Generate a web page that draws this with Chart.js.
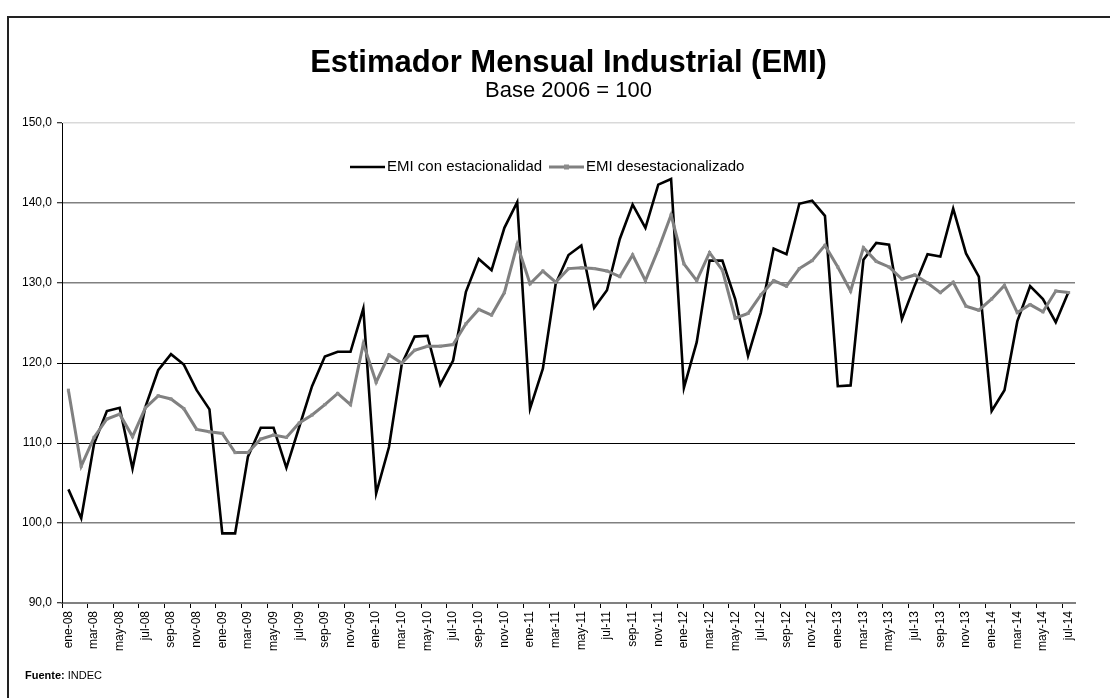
<!DOCTYPE html>
<html><head><meta charset="utf-8">
<script src="https://cdn.jsdelivr.net/npm/chart.js@4.4.1/dist/chart.umd.min.js"></script>
<style>html,body{margin:0;padding:0;background:#fff;} #wrap{position:relative;width:1110px;height:698px;overflow:hidden;}</style>
</head><body><div id="wrap"><canvas id="c" width="1110" height="698"></canvas></div>
<script>
const categories = [
 'ene-08','feb-08','mar-08','abr-08','may-08','jun-08','jul-08','ago-08','sep-08','oct-08','nov-08','dic-08',
 'ene-09','feb-09','mar-09','abr-09','may-09','jun-09','jul-09','ago-09','sep-09','oct-09','nov-09','dic-09',
 'ene-10','feb-10','mar-10','abr-10','may-10','jun-10','jul-10','ago-10','sep-10','oct-10','nov-10','dic-10',
 'ene-11','feb-11','mar-11','abr-11','may-11','jun-11','jul-11','ago-11','sep-11','oct-11','nov-11','dic-11',
 'ene-12','feb-12','mar-12','abr-12','may-12','jun-12','jul-12','ago-12','sep-12','oct-12','nov-12','dic-12',
 'ene-13','feb-13','mar-13','abr-13','may-13','jun-13','jul-13','ago-13','sep-13','oct-13','nov-13','dic-13',
 'ene-14','feb-14','mar-14','abr-14','may-14','jun-14','jul-14'
];
const emiConEstacionalidad = [
 104.2,100.6,109.9,114.0,114.4,106.8,114.5,119.1,121.1,119.8,116.6,114.2,
 98.7,98.7,108.3,111.9,111.9,106.9,112.0,117.1,120.8,121.4,121.4,126.8,
 103.7,109.5,119.9,123.3,123.4,117.3,120.3,128.9,133.0,131.6,136.9,140.1,
 114.3,119.3,129.9,133.5,134.7,126.9,129.1,135.5,139.8,136.9,142.3,143.0,
 116.9,122.6,132.8,132.8,128.0,120.9,126.3,134.3,133.6,139.9,140.3,138.4,
 117.1,117.2,132.9,135.0,134.8,125.5,129.7,133.6,133.3,139.3,133.7,130.8,
 114.0,116.6,125.2,129.6,128.0,125.1,128.9
];
const emiDesestacionalizado = [
 116.6,107.1,110.7,113.0,113.6,110.8,114.4,115.9,115.5,114.3,111.7,111.4,
 111.2,108.8,108.8,110.5,111.0,110.7,112.5,113.5,114.8,116.2,114.8,122.4,
 117.6,121.0,120.0,121.6,122.1,122.1,122.3,124.9,126.7,126.0,128.8,134.8,
 129.9,131.5,130.1,131.8,131.9,131.8,131.5,130.8,133.5,130.3,134.2,138.5,
 132.4,130.3,133.8,131.6,125.6,126.2,128.5,130.3,129.6,131.8,132.8,134.7,
 132.0,129.0,134.4,132.7,132.0,130.5,131.0,130.0,128.8,130.1,127.1,126.6,
 128.0,129.7,126.3,127.3,126.4,129.0,128.8
];
const seriesNames = ['EMI con estacionalidad','EMI desestacionalizado'];
const yTickValues = [90,100,110,120,130,140,150];
const titleText = 'Estimador Mensual Industrial (EMI)';
const subtitleText = 'Base 2006 = 100';

const FONT = "'Liberation Sans', Arial, sans-serif";
const BLACK = '#000000';
const GRAY = '#808080';

const framePlugin = {
  id:'frame',
  beforeDraw(chart){
    const c = chart.ctx;
    c.save();
    c.fillStyle = '#fff';
    c.fillRect(0,0,chart.width,chart.height);
    c.strokeStyle = '#222';
    c.lineWidth = 2;
    c.beginPath();
    c.moveTo(8, chart.height + 5);
    c.lineTo(8, 17);
    c.lineTo(chart.width + 5, 17);
    c.stroke();
    c.restore();
  }
};

const legendPlugin = {
  id:'customLegend',
  afterDraw(chart){
    const c = chart.ctx;
    c.save();
    c.font = '15px ' + FONT;
    c.textBaseline = 'middle';
    c.fillStyle = '#000';
    const y = 167;
    const ds = chart.data.datasets;
    let x = 350;
    c.strokeStyle = ds[0].borderColor; c.lineWidth = 2.6;
    c.beginPath(); c.moveTo(x, y); c.lineTo(x + 35, y); c.stroke();
    c.fillText(ds[0].label, x + 37, y);
    x = 549;
    c.strokeStyle = ds[1].borderColor; c.lineWidth = 3;
    c.beginPath(); c.moveTo(x, y); c.lineTo(x + 35, y); c.stroke();
    c.fillStyle = '#8c8c8c';
    c.fillRect(x + 17.5 - 2.5, y - 2.5, 5, 5);
    c.fillStyle = '#000';
    c.fillText(ds[1].label, x + 37, y);
    c.font = 'bold 11px ' + FONT;
    c.textBaseline = 'alphabetic';
    c.fillText('Fuente:', 25, 679);
    const w = c.measureText('Fuente: ').width;
    c.font = '11px ' + FONT;
    c.fillText('INDEC', 25 + w, 679);
    c.restore();
  }
};

function yGridColor(ctx){
  const v = ctx.tick ? ctx.tick.value : null;
  if (v === 150) return '#d9d9d9';
  if (v === 90) return 'rgba(0,0,0,0)';
  if (v === 120 || v === 110) return '#000000';
  return '#808080';
}
function yGridWidth(ctx){
  const v = ctx.tick ? ctx.tick.value : null;
  if (v === 120 || v === 110) return 1;
  return 1.5;
}

new Chart(document.getElementById('c'), {
  type:'line',
  data:{
    labels:categories,
    datasets:[
      {label:seriesNames[0], data:emiConEstacionalidad, borderColor:BLACK, backgroundColor:BLACK, borderWidth:2.6, pointRadius:0, tension:0, order:1},
      {label:seriesNames[1], data:emiDesestacionalizado, borderColor:GRAY, backgroundColor:'#8c8c8c', borderWidth:3, pointStyle:'rect', pointRadius:2.2, pointBorderWidth:0, pointBackgroundColor:'#8c8c8c', tension:0, order:0}
    ]
  },
  options:{
    responsive:false, animation:false, devicePixelRatio:1,
    layout:{padding:{left:0,right:35,top:0,bottom:35}},
    plugins:{
      legend:{display:false},
      tooltip:{enabled:false},
      title:{display:true, fullSize:false, text:titleText, color:'#000', font:{family:FONT, size:31, weight:'bold', lineHeight:1.0}, padding:{top:48,bottom:0}},
      subtitle:{display:true, fullSize:false, text:subtitleText, color:'#000', font:{family:FONT, size:22, lineHeight:1.0}, padding:{top:1,bottom:21}}
    },
    scales:{
      x:{
        offset:true,
        grid:{offset:true, drawOnChartArea:false, drawTicks:true, tickLength:5, tickWidth:1,
          tickColor:(ctx)=> (ctx.index % 2 === 0 ? '#000' : 'rgba(0,0,0,0)')},
        border:{display:true, color:'#808080', width:2},
        ticks:{autoSkip:false, maxRotation:90, minRotation:90, padding:3, color:'#000',
          font:{family:FONT, size:12},
          callback:function(v,i){ return i % 2 === 0 ? this.getLabelForValue(v) : ''; }},
        afterFit:(s)=>{ s.height = 60; }
      },
      y:{
        min:90, max:150,
        afterBuildTicks:(s)=>{ s.ticks = yTickValues.map(v=>({value:v})); },
        grid:{color:yGridColor, lineWidth:yGridWidth, drawTicks:true, tickLength:5, tickWidth:1, tickColor:'#000'},
        border:{display:true, color:'#000', width:1},
        ticks:{padding:5, color:'#000', font:{family:FONT, size:12},
          callback:(v)=> Number(v).toFixed(1).replace('.', ',')},
        afterFit:(s)=>{ s.width = 62; }
      }
    }
  },
  plugins:[framePlugin, legendPlugin]
});
</script>
</body></html>
